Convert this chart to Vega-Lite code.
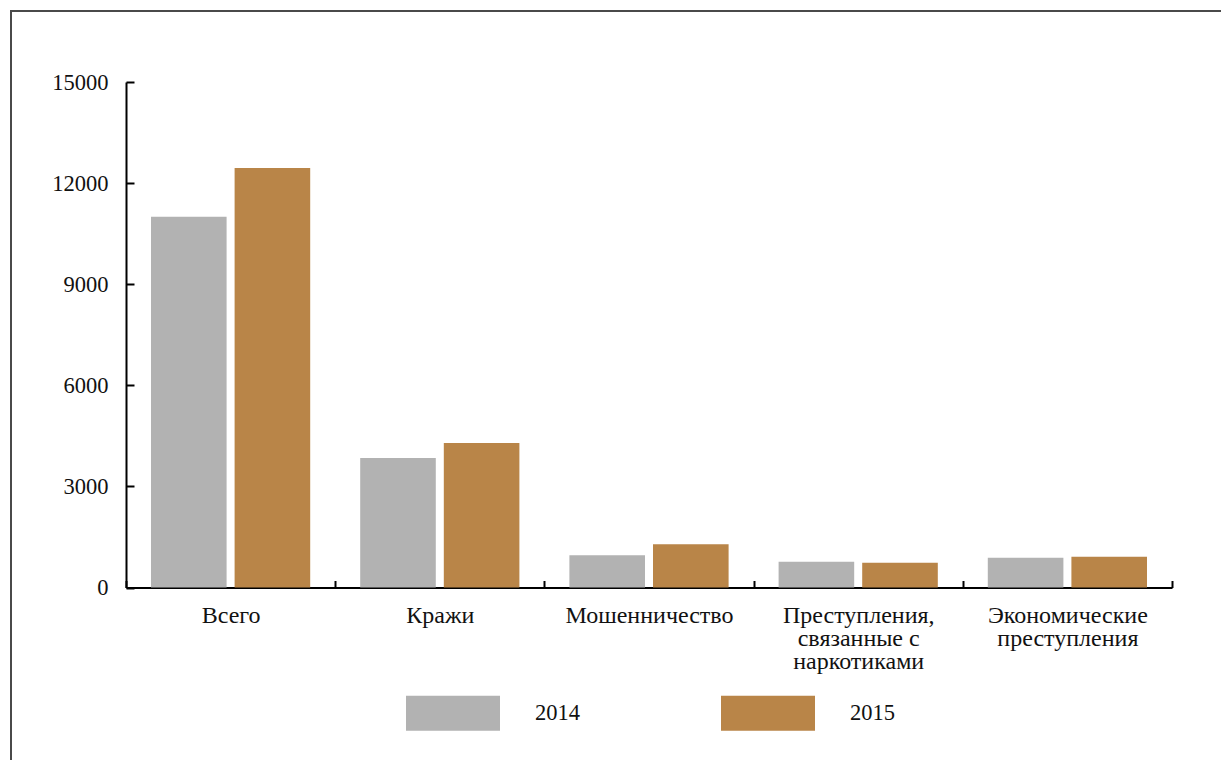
{
  "$schema": "https://vega.github.io/schema/vega-lite/v6.json",
  "usermeta": {"embedOptions": {"actions": false}},
  "width": 1215,
  "height": 755,
  "autosize": {"type": "none"},
  "padding": {"left": 11, "top": 11, "right": 0, "bottom": 0},
  "background": "white",
  "config": {
    "view": {"stroke": "#4a4a4a", "strokeWidth": 2},
    "font": "Liberation Serif, Tinos, Times New Roman, DejaVu Serif, serif"
  },
  "data": {
    "values": [
      {"cat": "Всего", "year": "2014", "value": 11000},
      {"cat": "Всего", "year": "2015", "value": 12450},
      {"cat": "Кражи", "year": "2014", "value": 3840},
      {"cat": "Кражи", "year": "2015", "value": 4290},
      {"cat": "Мошенничество", "year": "2014", "value": 960},
      {"cat": "Мошенничество", "year": "2015", "value": 1285},
      {"cat": "Преступления, связанные с наркотиками", "year": "2014", "value": 765},
      {"cat": "Преступления, связанные с наркотиками", "year": "2015", "value": 735},
      {"cat": "Экономические преступления", "year": "2014", "value": 880},
      {"cat": "Экономические преступления", "year": "2015", "value": 910}
    ]
  },
  "mark": {"type": "bar"},
  "encoding": {
    "x": {
      "field": "cat",
      "type": "nominal",
      "sort": null,
      "scale": {"range": [115, 1161], "paddingInner": 0, "paddingOuter": 0},
      "axis": {
        "title": null,
        "orient": "bottom",
        "offset": -178.5,
        "labelAngle": 0,
        "domainColor": "#000",
        "domainWidth": 2,
        "tickColor": "#000",
        "tickWidth": 2,
        "tickSize": -7,
        "tickBand": "extent",
        "labelFont": "Liberation Serif, Tinos, Times New Roman, DejaVu Serif, serif",
        "labelFontSize": 24,
        "labelColor": "#111",
        "labelPadding": 23,
        "labelBaseline": "top",
        "labelLineHeight": 23,
        "labelLimit": 400,
        "labelOverlap": false,
        "labelFlush": false,
        "labelExpr": "datum.value == 'Преступления, связанные с наркотиками' ? ['Преступления,', 'связанные с', 'наркотиками'] : datum.value == 'Экономические преступления' ? ['Экономические', 'преступления'] : datum.value"
      }
    },
    "xOffset": {
      "field": "year",
      "type": "nominal",
      "scale": {"paddingInner": 0.0958, "paddingOuter": 0.299}
    },
    "y": {
      "field": "value",
      "type": "quantitative",
      "scale": {"domain": [0, 15000], "range": [576.5, 71], "nice": false},
      "axis": {
        "title": null,
        "offset": -115,
        "grid": false,
        "values": [0, 3000, 6000, 9000, 12000, 15000],
        "format": "d",
        "domainColor": "#000",
        "domainWidth": 2,
        "tickColor": "#000",
        "tickWidth": 2,
        "tickSize": -8,
        "labelPadding": 26,
        "labelFont": "Liberation Serif, Tinos, Times New Roman, DejaVu Serif, serif",
        "labelFontSize": 22.5,
        "labelColor": "#111"
      }
    },
    "color": {
      "field": "year",
      "type": "nominal",
      "scale": {"domain": ["2014", "2015"], "range": ["#b2b2b2", "#b98548"]},
      "legend": {
        "orient": "none",
        "legendX": 395,
        "legendY": 655,
        "direction": "horizontal",
        "columns": 2,
        "columnPadding": 141,
        "title": null,
        "padding": 0,
        "symbolType": "M-1,-0.372H1V0.372H-1Z",
        "symbolSize": 8836,
        "symbolStrokeWidth": 0,
        "symbolOpacity": 1,
        "labelOffset": 35,
        "labelFont": "Liberation Serif, Tinos, Times New Roman, DejaVu Serif, serif",
        "labelFontSize": 22.5,
        "labelColor": "#111"
      }
    }
  }
}
